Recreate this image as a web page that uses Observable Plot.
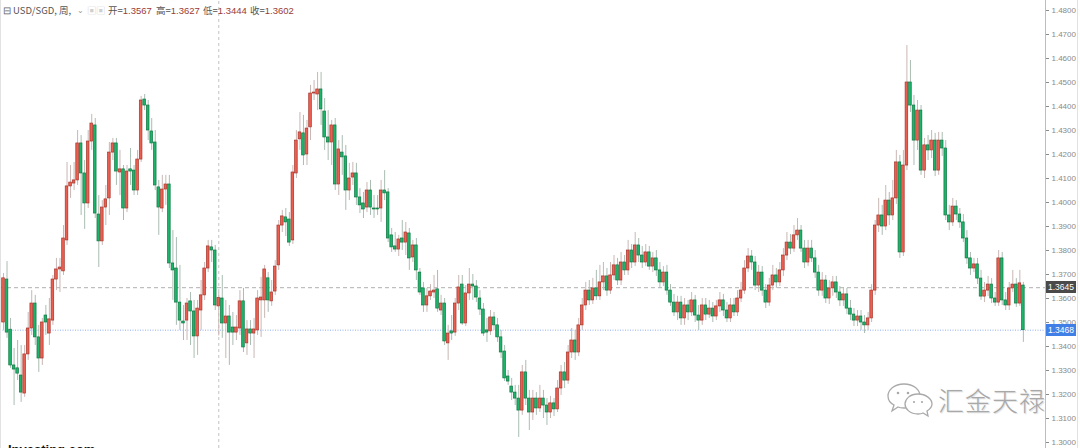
<!DOCTYPE html>
<html>
<head>
<meta charset="utf-8">
<script src="https://cdn.jsdelivr.net/npm/d3@7"></script>
<script src="https://cdn.jsdelivr.net/npm/@observablehq/plot@0.6"></script>
<style>
  html, body { margin: 0; padding: 0; background: #fff; overflow: hidden; }
  #wrap { position: relative; width: 1080px; height: 448px; overflow: hidden; font-family: "Noto Sans CJK SC", "Liberation Sans", sans-serif; }
  #wrap svg { display: block; }
  .hdr { position: absolute; top: 4px; font-size: 9.5px; line-height: 12px; white-space: nowrap; color: #555; }
  .val { color: #9b3b35; font-family: "Liberation Sans", Arial, sans-serif; }
  .plabel { position: absolute; left: 1046px; width: 30px; height: 12px; font: 8.5px "Liberation Sans", Arial, sans-serif; color: #fff; line-height: 12px; text-align: center; }
  .wm { position: absolute; left: 938px; top: 381px; font-size: 26px; letter-spacing: 1px; color: #a8a8a8; font-family: "Noto Sans CJK SC", sans-serif; font-weight: 300; text-shadow: 1px 1px 0 #e6e6e6, -1px -1px 0 #fafafa; }
</style>
</head>
<body>
<div id="wrap"></div>
<script>
// USD/SGD weekly candles (open, high, low, close)
const open = [1.3500,1.3679,1.3470,1.3321,1.3309,1.3279,1.3204,1.3367,1.3475,1.3579,
1.3438,1.3350,1.3529,1.3454,1.3508,1.3679,1.3721,1.3713,1.3842,1.4067,
1.4079,1.4092,1.4246,1.4121,1.3996,1.4254,1.4321,1.3950,1.3838,1.3979,
1.4017,1.4208,1.4246,1.4125,1.4138,1.3975,1.4138,1.4133,1.4050,1.4179,
1.4429,1.4404,1.4296,1.4250,1.4063,1.3975,1.4054,1.4075,1.3746,1.3725,
1.3583,1.3504,1.3508,1.3588,1.3546,1.3442,1.3550,1.3613,1.3725,1.3813,
1.3800,1.3567,1.3600,1.3496,1.3525,1.3479,1.3458,1.3475,1.3588,1.3413,
1.3471,1.3454,1.3467,1.3592,1.3592,1.3684,1.3588,1.3629,1.3738,1.3904,
1.3938,1.3929,1.3842,1.4121,1.4263,1.4288,1.4200,1.4313,1.4454,1.4450,
1.4471,1.4379,1.4271,1.4250,1.4321,1.4075,1.4208,1.4192,1.4050,1.4104,
1.4121,1.4021,1.3996,1.3979,1.4050,1.3975,1.3975,1.3975,1.4050,1.4042,
1.3863,1.3817,1.3804,1.3850,1.3833,1.3871,1.3771,1.3821,1.3708,1.3642,
1.3571,1.3609,1.3625,1.3638,1.3550,1.3579,1.3413,1.3463,1.3458,1.3579,
1.3658,1.3496,1.3621,1.3658,1.3650,1.3600,1.3554,1.3467,1.3463,1.3521,
1.3488,1.3438,1.3379,1.3275,1.3233,1.3208,1.3183,1.3133,1.3292,1.3183,
1.3125,1.3183,1.3142,1.3183,1.3154,1.3125,1.3163,1.3138,1.3225,1.3292,
1.3258,1.3375,1.3425,1.3375,1.3488,1.3571,1.3633,1.3592,1.3642,1.3609,
1.3667,1.3692,1.3633,1.3696,1.3738,1.3675,1.3750,1.3717,1.3800,1.3750,
1.3821,1.3779,1.3750,1.3792,1.3733,1.3767,1.3717,1.3667,1.3708,1.3633,
1.3583,1.3542,1.3583,1.3517,1.3571,1.3542,1.3592,1.3529,1.3508,1.3571,
1.3533,1.3558,1.3525,1.3567,1.3592,1.3550,1.3517,1.3571,1.3542,1.3600,
1.3633,1.3725,1.3775,1.3750,1.3654,1.3708,1.3633,1.3583,1.3654,1.3696,
1.3667,1.3717,1.3779,1.3833,1.3808,1.3863,1.3883,1.3808,1.3750,1.3808,
1.3767,1.3708,1.3633,1.3675,1.3600,1.3642,1.3667,1.3625,1.3592,1.3617,
1.3558,1.3533,1.3508,1.3525,1.3500,1.3488,1.3517,1.3633,1.3904,1.3946,
1.3900,1.4008,1.3946,1.4017,1.4167,1.3792,1.4154,1.4500,1.4404,1.4258,
1.4383,1.4133,1.4238,1.4217,1.4258,1.4133,1.4258,1.4225,1.3946,1.3917,
1.3983,1.3950,1.3917,1.3850,1.3767,1.3725,1.3742,1.3683,1.3608,1.3633,
1.3658,1.3600,1.3583,1.3767,1.3592,1.3571,1.3642,1.3658,1.3579,1.3654];

const high = [1.3704,1.3754,1.3517,1.3392,1.3425,1.3404,1.3404,1.3542,1.3633,1.3613,
1.3488,1.3517,1.3571,1.3600,1.3696,1.3767,1.3767,1.3904,1.4167,1.4154,
1.4167,1.4300,1.4279,1.4175,1.4300,1.4367,1.4350,1.4029,1.4008,1.4071,
1.4250,1.4267,1.4267,1.4217,1.4154,1.4154,1.4225,1.4154,1.4217,1.4442,
1.4450,1.4425,1.4350,1.4300,1.4092,1.4113,1.4113,1.4113,1.3883,1.3854,
1.3738,1.3571,1.3600,1.3625,1.3592,1.3592,1.3675,1.3750,1.3842,1.3842,
1.3821,1.3627,1.3696,1.3592,1.3571,1.3542,1.3529,1.3633,1.3642,1.3508,
1.3508,1.3517,1.3633,1.3688,1.3738,1.3708,1.3675,1.3758,1.3925,1.3967,
1.3975,1.3958,1.4154,1.4300,1.4375,1.4363,1.4342,1.4488,1.4508,1.4542,
1.4542,1.4433,1.4383,1.4342,1.4350,1.4258,1.4279,1.4238,1.4163,1.4167,
1.4163,1.4058,1.4042,1.4083,1.4092,1.4029,1.4029,1.4092,1.4133,1.4058,
1.3892,1.3875,1.3863,1.3925,1.3917,1.3892,1.3842,1.3850,1.3725,1.3667,
1.3642,1.3658,1.3696,1.3717,1.3613,1.3600,1.3488,1.3529,1.3600,1.3696,
1.3696,1.3654,1.3725,1.3700,1.3675,1.3633,1.3579,1.3517,1.3550,1.3542,
1.3517,1.3467,1.3404,1.3300,1.3267,1.3238,1.3238,1.3321,1.3342,1.3217,
1.3217,1.3208,1.3238,1.3217,1.3183,1.3192,1.3183,1.3258,1.3321,1.3333,
1.3404,1.3475,1.3467,1.3517,1.3600,1.3667,1.3675,1.3684,1.3717,1.3738,
1.3750,1.3725,1.3750,1.3779,1.3767,1.3792,1.3779,1.3842,1.3825,1.3875,
1.3850,1.3817,1.3825,1.3817,1.3792,1.3800,1.3750,1.3733,1.3738,1.3658,
1.3617,1.3609,1.3609,1.3600,1.3592,1.3625,1.3613,1.3571,1.3600,1.3600,
1.3592,1.3583,1.3592,1.3625,1.3617,1.3583,1.3600,1.3600,1.3633,1.3667,
1.3758,1.3808,1.3800,1.3775,1.3738,1.3733,1.3658,1.3684,1.3738,1.3725,
1.3750,1.3808,1.3875,1.3867,1.3904,1.3933,1.3904,1.3842,1.3842,1.3842,
1.3800,1.3738,1.3708,1.3696,1.3675,1.3692,1.3692,1.3650,1.3642,1.3642,
1.3592,1.3558,1.3550,1.3550,1.3529,1.3542,1.3658,1.3925,1.4017,1.3988,
1.4071,1.4042,1.4092,1.4217,1.4196,1.4217,1.4654,1.4592,1.4446,1.4425,
1.4404,1.4267,1.4279,1.4300,1.4288,1.4292,1.4292,1.4258,1.3988,1.4017,
1.4008,1.3975,1.3950,1.3883,1.3792,1.3767,1.3767,1.3717,1.3667,1.3692,
1.3683,1.3625,1.3800,1.3792,1.3625,1.3667,1.3717,1.3683,1.3717,1.3667];

const low = [1.3467,1.3434,1.3309,1.3154,1.3258,1.3167,1.3188,1.3342,1.3446,1.3404,
1.3292,1.3321,1.3446,1.3404,1.3488,1.3633,1.3625,1.3696,1.3821,1.4017,
1.4050,1.4071,1.3946,1.3888,1.3975,1.4217,1.3933,1.3729,1.3821,1.3904,
1.3946,1.4175,1.4071,1.4029,1.3925,1.3958,1.4071,1.4029,1.4029,1.4167,
1.4383,1.4258,1.4217,1.4050,1.3863,1.3958,1.3988,1.3725,1.3592,1.3488,
1.3467,1.3425,1.3425,1.3404,1.3350,1.3363,1.3467,1.3592,1.3708,1.3750,
1.3550,1.3444,1.3434,1.3350,1.3321,1.3404,1.3425,1.3446,1.3375,1.3363,
1.3404,1.3350,1.3446,1.3438,1.3517,1.3542,1.3567,1.3613,1.3717,1.3875,
1.3858,1.3817,1.3825,1.4100,1.4217,1.4154,1.4154,1.4258,1.4425,1.4383,
1.4321,1.4217,1.4175,1.4154,1.4050,1.4029,1.4113,1.3967,1.4008,1.4071,
1.3988,1.3954,1.3933,1.3958,1.3946,1.3933,1.3946,1.3917,1.4008,1.3833,
1.3792,1.3792,1.3775,1.3800,1.3779,1.3717,1.3750,1.3675,1.3613,1.3542,
1.3542,1.3592,1.3600,1.3542,1.3529,1.3404,1.3342,1.3425,1.3442,1.3550,
1.3488,1.3483,1.3592,1.3592,1.3583,1.3529,1.3442,1.3417,1.3446,1.3467,
1.3417,1.3350,1.3254,1.3238,1.3175,1.3154,1.3021,1.3113,1.3154,1.3050,
1.3092,1.3113,1.3125,1.3100,1.3071,1.3100,1.3108,1.3125,1.3196,1.3225,
1.3242,1.3350,1.3342,1.3358,1.3467,1.3550,1.3571,1.3575,1.3592,1.3592,
1.3633,1.3609,1.3617,1.3675,1.3654,1.3654,1.3696,1.3696,1.3725,1.3733,
1.3750,1.3725,1.3733,1.3717,1.3708,1.3692,1.3642,1.3650,1.3613,1.3567,
1.3525,1.3508,1.3488,1.3488,1.3508,1.3525,1.3500,1.3467,1.3488,1.3508,
1.3517,1.3500,1.3508,1.3542,1.3525,1.3500,1.3500,1.3525,1.3525,1.3583,
1.3617,1.3708,1.3717,1.3633,1.3625,1.3609,1.3558,1.3567,1.3633,1.3642,
1.3650,1.3692,1.3758,1.3783,1.3792,1.3842,1.3792,1.3725,1.3733,1.3750,
1.3684,1.3609,1.3609,1.3579,1.3575,1.3609,1.3600,1.3567,1.3567,1.3533,
1.3508,1.3483,1.3483,1.3467,1.3454,1.3467,1.3500,1.3613,1.3875,1.3863,
1.3883,1.3904,1.3925,1.3992,1.3767,1.3775,1.4133,1.4375,1.4154,1.4217,
1.4113,1.4100,1.4175,1.4183,1.4108,1.4113,1.4192,1.3925,1.3883,1.3900,
1.3925,1.3892,1.3833,1.3742,1.3696,1.3708,1.3658,1.3592,1.3583,1.3608,
1.3579,1.3567,1.3567,1.3571,1.3550,1.3550,1.3625,1.3563,1.3567,1.3417];

const close = [1.3684,1.3458,1.3321,1.3304,1.3287,1.3208,1.3367,1.3475,1.3579,1.3438,
1.3350,1.3500,1.3500,1.3513,1.3679,1.3721,1.3729,1.3850,1.4067,1.4083,
1.4092,1.4246,1.4121,1.3996,1.4254,1.4329,1.3954,1.3838,1.3979,1.4013,
1.4208,1.4246,1.4129,1.4138,1.3975,1.4129,1.4129,1.4050,1.4179,1.4425,
1.4404,1.4300,1.4246,1.4071,1.3979,1.4054,1.4075,1.3746,1.3717,1.3583,
1.3508,1.3496,1.3579,1.3546,1.3442,1.3558,1.3613,1.3725,1.3817,1.3800,
1.3571,1.3602,1.3496,1.3525,1.3458,1.3458,1.3479,1.3588,1.3396,1.3471,
1.3454,1.3471,1.3600,1.3604,1.3721,1.3592,1.3625,1.3733,1.3904,1.3942,
1.3917,1.3833,1.4125,1.4258,1.4292,1.4196,1.4308,1.4454,1.4458,1.4471,
1.4388,1.4271,1.4250,1.4321,1.4075,1.4221,1.4188,1.4050,1.4100,1.4121,
1.4021,1.3988,1.3971,1.4050,1.3979,1.3971,1.3971,1.4050,1.4038,1.3850,
1.3813,1.3804,1.3846,1.3833,1.3875,1.3767,1.3821,1.3717,1.3625,1.3571,
1.3609,1.3629,1.3633,1.3558,1.3579,1.3421,1.3454,1.3454,1.3579,1.3646,
1.3496,1.3621,1.3658,1.3650,1.3604,1.3554,1.3454,1.3458,1.3521,1.3488,
1.3438,1.3375,1.3267,1.3254,1.3208,1.3183,1.3133,1.3292,1.3183,1.3125,
1.3183,1.3142,1.3183,1.3154,1.3125,1.3163,1.3138,1.3225,1.3292,1.3258,
1.3375,1.3425,1.3375,1.3488,1.3571,1.3633,1.3592,1.3642,1.3609,1.3667,
1.3692,1.3633,1.3696,1.3738,1.3675,1.3750,1.3717,1.3800,1.3750,1.3821,
1.3779,1.3750,1.3792,1.3733,1.3767,1.3717,1.3667,1.3708,1.3633,1.3583,
1.3542,1.3583,1.3517,1.3571,1.3542,1.3592,1.3529,1.3508,1.3571,1.3533,
1.3558,1.3525,1.3567,1.3592,1.3550,1.3517,1.3571,1.3542,1.3600,1.3633,
1.3725,1.3775,1.3750,1.3654,1.3708,1.3633,1.3583,1.3654,1.3696,1.3667,
1.3717,1.3779,1.3833,1.3808,1.3863,1.3883,1.3808,1.3750,1.3808,1.3767,
1.3708,1.3633,1.3675,1.3600,1.3642,1.3667,1.3625,1.3592,1.3617,1.3558,
1.3533,1.3508,1.3525,1.3500,1.3488,1.3517,1.3633,1.3904,1.3946,1.3900,
1.4008,1.3946,1.4017,1.4167,1.3792,1.4154,1.4500,1.4404,1.4258,1.4383,
1.4133,1.4238,1.4217,1.4258,1.4133,1.4258,1.4225,1.3946,1.3917,1.3983,
1.3950,1.3917,1.3850,1.3767,1.3725,1.3742,1.3683,1.3608,1.3633,1.3658,
1.3600,1.3583,1.3767,1.3592,1.3571,1.3642,1.3658,1.3579,1.3663,1.3468];

const yTicks = [1.30,1.31,1.32,1.33,1.34,1.35,1.36,1.37,1.38,1.39,1.40,1.41,1.42,1.43,1.44,1.45,1.46,1.47,1.48];
const refLast = 1.3645;     // grey dashed level
const refCurrent = 1.3468;  // blue dotted level (last close)
const hoverIndex = 61;      // crosshair candle
const header = {symbol: "USD/SGD, 周,", o: "1.3567", h: "1.3627", l: "1.3444", c: "1.3602"};

const data = close.map((c, i) => ({i, open: open[i], high: high[i], low: low[i], close: c, up: c >= open[i]}));

const xMin = -0.85, xMax = 295.27;
const W = 0.37;

const chart = Plot.plot({
  width: 1080,
  height: 448,
  marginLeft: 0,
  marginRight: 35,
  marginTop: 10,
  marginBottom: 6,
  style: {fontFamily: "'Liberation Sans', Arial, sans-serif", background: "#fff", overflow: "visible"},
  x: {type: "linear", domain: [xMin, xMax], axis: null},
  y: {domain: [1.30, 1.48], axis: null},
  marks: [
    Plot.ruleX([hoverIndex], {stroke: "#c4c4c4", strokeDasharray: "3,3", strokeWidth: 1, y1: 1.30 - 0.01, y2: 1.48 + 0.01}),
    Plot.ruleY([refLast], {stroke: "#9a9a9a", strokeDasharray: "4,3", strokeWidth: 0.8}),
    Plot.ruleY([refCurrent], {stroke: "#6f95e8", strokeDasharray: "1,1.5", strokeWidth: 0.8}),
    Plot.ruleX(data, {x: "i", y1: "low", y2: "high", stroke: d => d.up ? "#c9b7b4" : "#aabdb2", strokeWidth: 1}),
    Plot.rect(data, {
      x1: d => d.i - W, x2: d => d.i + W,
      y1: "open", y2: "close",
      fill: d => d.up ? "#ec5f50" : "#1cb46b",
      stroke: d => d.up ? "#a5352b" : "#0f7640",
      strokeWidth: 0.7
    }),
    Plot.ruleX([xMax], {stroke: "#bdbdbd", strokeWidth: 1, y1: 1.30 - 0.01, y2: 1.48 + 0.01}),
    Plot.axisY(yTicks, {anchor: "right", tickFormat: d3.format(".4f"), tickSize: 3, tickPadding: 3, fontSize: 8, color: "#8a8a8a"})
  ]
});

const wrap = document.getElementById("wrap");
wrap.appendChild(chart);

// borders
const lb = document.createElement("div");
lb.style.cssText = "position:absolute;left:0;top:0;width:1px;height:448px;background:#e2e2e2;";
wrap.appendChild(lb);
const rb = document.createElement("div");
rb.style.cssText = "position:absolute;left:1077px;top:0;width:1px;height:448px;background:#e2e2e2;";
wrap.appendChild(rb);

// header
function addText(html, left, extra) {
  const s = document.createElement("div");
  s.className = "hdr";
  s.style.left = left + "px";
  if (extra) s.style.cssText += extra;
  s.innerHTML = html;
  wrap.appendChild(s);
  return s;
}
addText("⊟", 3, "color:#666;");
addText(header.symbol, 13);
addText("⌄", 77, "color:#999;font-size:8px;");
addText("▣", 87, "color:#cfcfcf;");
addText("▣", 96, "color:#cfcfcf;");
addText('开=<span class="val">' + header.o + '</span>', 108);
addText('高=<span class="val">' + header.h + '</span>', 156);
addText('低=<span class="val">' + header.l + '</span>', 203);
addText('收=<span class="val">' + header.c + '</span>', 250);

// price labels on the axis
const ys = chart.scale("y");
function priceLabel(v, bg) {
  const d = document.createElement("div");
  d.className = "plabel";
  d.style.top = (ys.apply(v) - 6) + "px";
  d.style.background = bg;
  d.textContent = v.toFixed(4);
  wrap.appendChild(d);
}
priceLabel(refLast, "#4a4a4a");
priceLabel(refCurrent, "#3f7fe6");

// watermark
const icon = document.createElement("div");
icon.style.cssText = "position:absolute;left:886px;top:381px;width:50px;height:40px;";
icon.innerHTML = '<svg width="50" height="40" viewBox="0 0 50 40"><g fill="#fff" stroke="#aaa" stroke-width="1.3"><path d="M18 3 C8 3 2 9 2 15 C2 19 4 22 8 24 L6 30 L12 26 C14 27 16 27 18 27 C28 27 34 21 34 15 C34 9 28 3 18 3 Z"/><path d="M32 13 C24 13 19 18 19 23 C19 28 24 33 32 33 C34 33 35 33 37 32 L42 35 L41 30 C44 28 46 26 46 23 C46 18 40 13 32 13 Z"/></g><g fill="#aaa"><circle cx="12" cy="12" r="1.3"/><circle cx="22" cy="12" r="1.3"/><circle cx="28" cy="21" r="1.1"/><circle cx="36" cy="21" r="1.1"/></g></svg>';
wrap.appendChild(icon);
const wm = document.createElement("div");
wm.className = "wm";
wm.textContent = "汇金天禄";
wrap.appendChild(wm);

// source logo, cut by the bottom edge
const logo = document.createElement("div");
logo.style.cssText = "position:absolute;left:8px;top:443px;font:bold 13px 'Liberation Sans',Arial,sans-serif;color:#111;line-height:13px;";
logo.textContent = "Investing.com";
wrap.appendChild(logo);
</script>
</body>
</html>
